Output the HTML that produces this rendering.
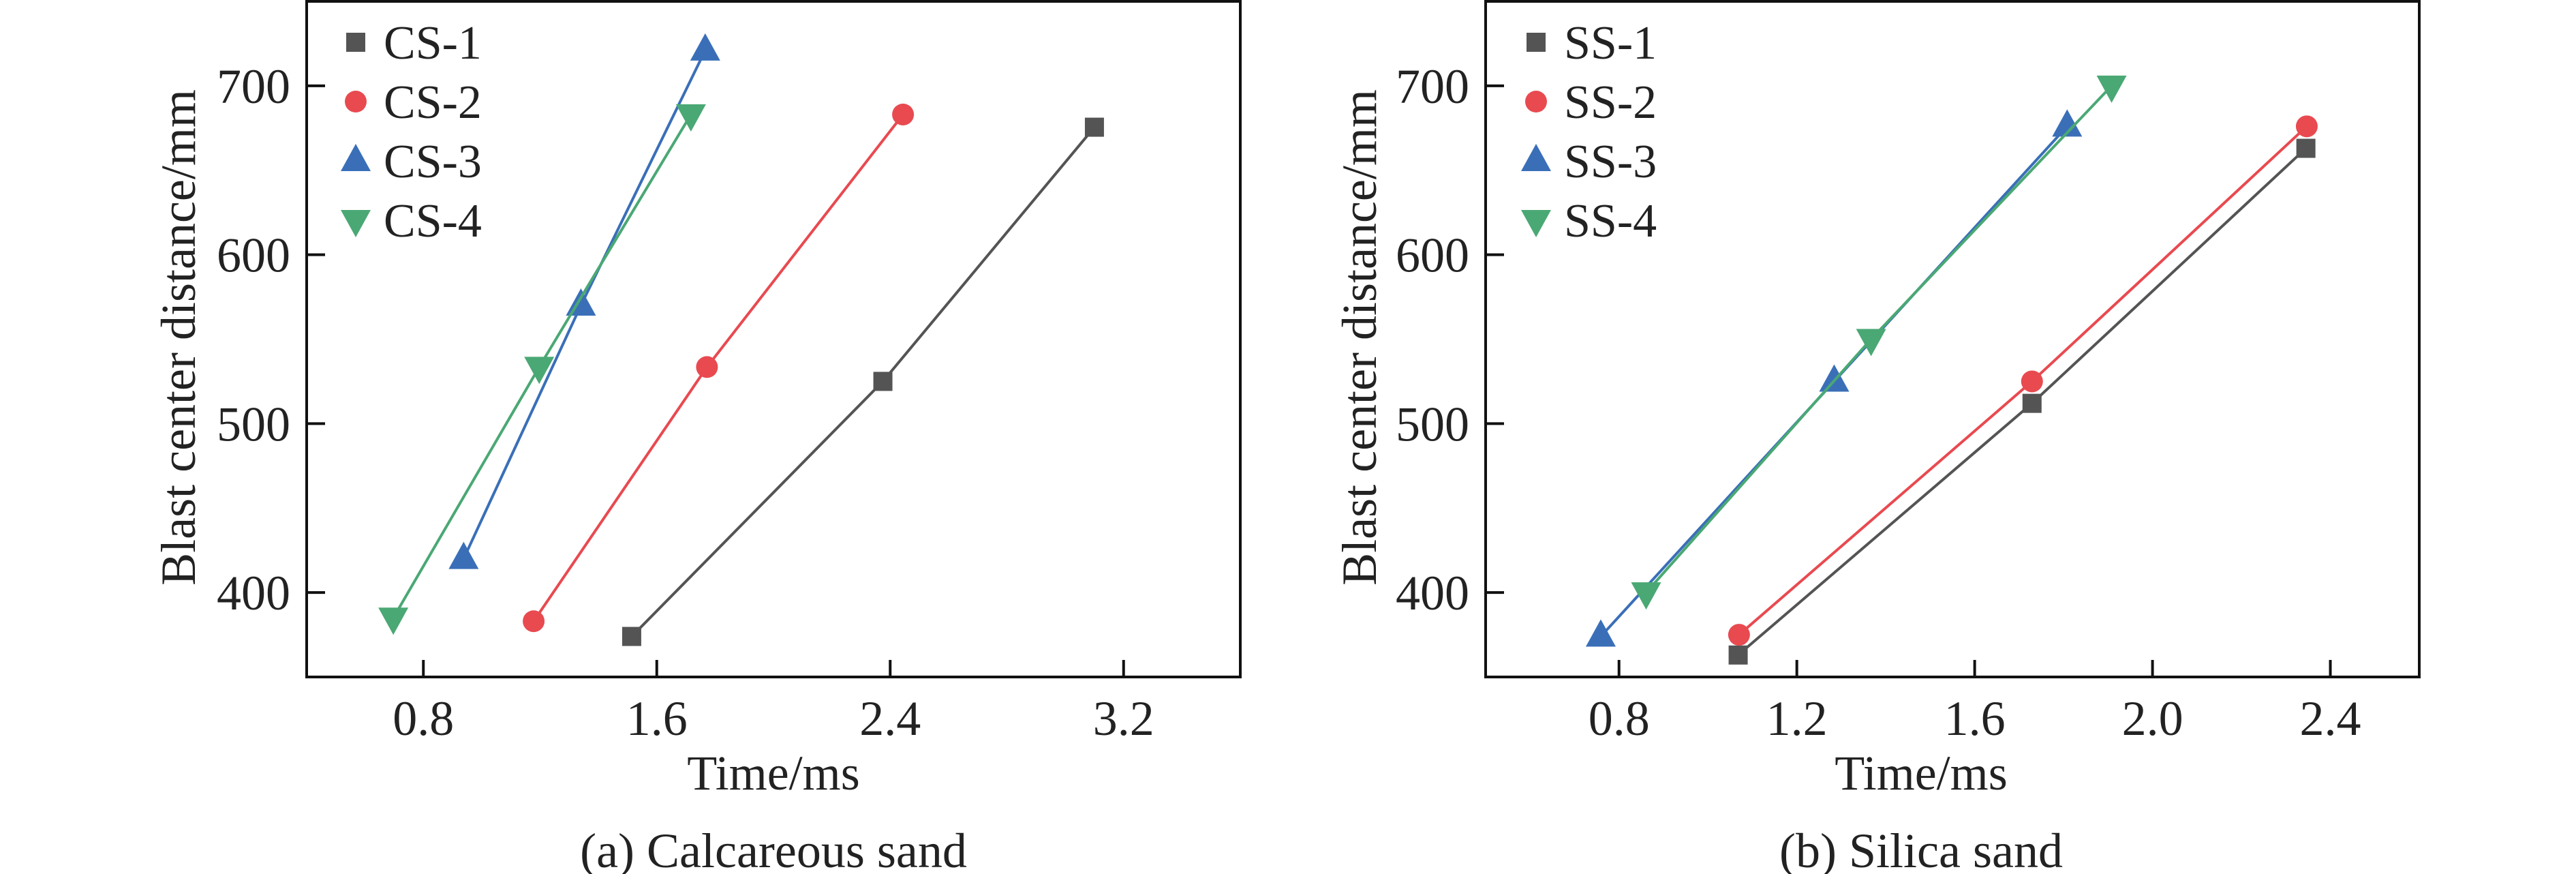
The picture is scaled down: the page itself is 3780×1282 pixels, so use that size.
<!DOCTYPE html>
<html><head><meta charset="utf-8">
<style>
html,body{margin:0;padding:0;background:#fff;}
svg{display:block;font-family:"Liberation Serif","DejaVu Serif",serif;}
text{font-family:"Liberation Serif","DejaVu Serif",serif;}
</style></head>
<body>
<svg id="fig" width="3780" height="1282" viewBox="0 0 3780 1282" xmlns="http://www.w3.org/2000/svg"></svg>
<script>
// ---- Data: (a) Calcareous sand ----
const csNames = ["CS-1","CS-2","CS-3","CS-4"];
const cs1X = [1.514, 2.375, 3.10];  const cs1Y = [374, 525, 675.5];
const cs2X = [1.178, 1.772, 2.444]; const cs2Y = [383, 533.5, 683];
const cs3X = [0.938, 1.34, 1.766];  const cs3Y = [420, 570, 721];
const cs4X = [0.697, 1.197, 1.717]; const cs4Y = [385, 533.5, 683];
const csXTicks = [0.8, 1.6, 2.4, 3.2];
const csXTickLabels = ["0.8","1.6","2.4","3.2"];
// ---- Data: (b) Silica sand ----
const ssNames = ["SS-1","SS-2","SS-3","SS-4"];
const ss1X = [1.068, 1.729, 2.345]; const ss1Y = [363, 512, 663];
const ss2X = [1.07, 1.729, 2.347];  const ss2Y = [375, 525, 676];
const ss3X = [0.759, 1.284, 1.808]; const ss3Y = [374, 525, 676];
const ss4X = [0.861, 1.367, 1.908]; const ss4Y = [400, 550, 700];
const ssXTicks = [0.8, 1.2, 1.6, 2.0, 2.4];
const ssXTickLabels = ["0.8","1.2","1.6","2.0","2.4"];
const yTicks = [400, 500, 600, 700];
const yTickLabels = ["400","500","600","700"];

const NS = "http://www.w3.org/2000/svg";
const svg = document.getElementById("fig");
const colors = ["#545454", "#e84a50", "#3a6fb8", "#4aa874"];
const shapes = ["square", "circle", "up", "down"];
const FONT = '"Liberation Serif", "DejaVu Serif", serif';

function mk(tag, attrs, parent) {
  const e = document.createElementNS(NS, tag);
  for (const k in attrs) e.setAttribute(k, attrs[k]);
  if (tag === "text") e.setAttribute("font-family", FONT);
  (parent || svg).appendChild(e);
  return e;
}
function marker(g, shape, cx, cy, color) {
  let m;
  if (shape === "square") m = mk("rect", {x: cx-14, y: cy-14, width: 28, height: 28, fill: color}, g);
  else if (shape === "circle") m = mk("circle", {cx: cx, cy: cy, r: 16, fill: color}, g);
  else if (shape === "up") m = mk("polygon", {points: `${cx},${cy-25} ${cx-22},${cy+15} ${cx+22},${cy+15}`, fill: color}, g);
  else m = mk("polygon", {points: `${cx},${cy+25} ${cx-22},${cy-15} ${cx+22},${cy-15}`, fill: color}, g);
  return m;
}

function panel(cfg) {
  const g = mk("g", {});
  
  
  const L = cfg.left, R = cfg.right, T = 2, B = 993;
  const sx = v => L + (v - cfg.xmin) / (cfg.xmax - cfg.xmin) * (R - L);
  const sy = v => B - (v - cfg.ymin) / (cfg.ymax - cfg.ymin) * (B - T);
  const frame = mk("rect", {x: L, y: T, width: R - L, height: B - T, fill: "none", stroke: "#111", "stroke-width": 4}, g);
  
  
  cfg.xt.forEach((v, i) => {
    const t = mk("line", {x1: sx(v), x2: sx(v), y1: B, y2: B - 25, stroke: "#111", "stroke-width": 4}, g);
    
    
    const lb = mk("text", {x: sx(v), y: 1078, "font-size": 72, "text-anchor": "middle", fill: "#222"}, g);
    
    
    lb.textContent = cfg.xtl[i];
  });
  yTicks.forEach((v, i) => {
    const t = mk("line", {x1: L, x2: L + 27, y1: sy(v), y2: sy(v), stroke: "#111", "stroke-width": 4}, g);
    
    
    const lb = mk("text", {x: L - 24, y: sy(v) + 25, "font-size": 72, "text-anchor": "end", fill: "#222"}, g);
    
    
    lb.textContent = yTickLabels[i];
  });
  const yt = mk("text", {x: 0, y: 0, "font-size": 72, "text-anchor": "middle", fill: "#222",
    transform: `translate(${cfg.ytx},495) rotate(-90)`, "dominant-baseline": "central"}, g);
  
  
  yt.textContent = "Blast center distance/mm";
  const xt = mk("text", {x: cfg.tcx, y: 1158, "font-size": 72, "text-anchor": "middle", fill: "#222"}, g);
  
  
  xt.textContent = "Time/ms";
  const cap = mk("text", {x: cfg.tcx, y: 1272, "font-size": 72, "text-anchor": "middle", fill: "#222"}, g);
  
  
  cap.textContent = cfg.caption;
  cfg.series.forEach((s, k) => {
    const sg = mk("g", {}, g);
    
    
    const pts = s[0].map((x, i) => `${sx(x)},${sy(s[1][i])}`).join(" ");
    const pl = mk("polyline", {points: pts, fill: "none", stroke: colors[k], "stroke-width": 4}, sg);
    
    
    s[0].forEach((x, i) => {
      const m = marker(sg, shapes[k], sx(x), sy(s[1][i]), colors[k]);
      
      
    });
  });
  const lg = mk("g", {}, g);
  
  
  cfg.names.forEach((n, k) => {
    const cy = 62 + k * 87;
    const m = marker(lg, shapes[k], cfg.lmx, cy, colors[k]);
    
    
    const t = mk("text", {x: cfg.lmx + 41, y: cy + 24, "font-size": 70, fill: "#222"}, lg);
    
    
    t.textContent = n;
  });
}

panel({name: "chart-calcareous-sand", left: 450, right: 1820, xmin: 0.4, xmax: 3.6, ymin: 350, ymax: 750,
  xt: csXTicks, xtl: csXTickLabels, ytx: 262, tcx: 1135, caption: "(a) Calcareous sand",
  names: csNames, lmx: 522,
  series: [[cs1X, cs1Y], [cs2X, cs2Y], [cs3X, cs3Y], [cs4X, cs4Y]]});
panel({name: "chart-silica-sand", left: 2180, right: 3550, xmin: 0.5, xmax: 2.6, ymin: 350, ymax: 750,
  xt: ssXTicks, xtl: ssXTickLabels, ytx: 1995, tcx: 2819, caption: "(b) Silica sand",
  names: ssNames, lmx: 2254,
  series: [[ss1X, ss1Y], [ss2X, ss2Y], [ss3X, ss3Y], [ss4X, ss4Y]]});
</script>
</body></html>
